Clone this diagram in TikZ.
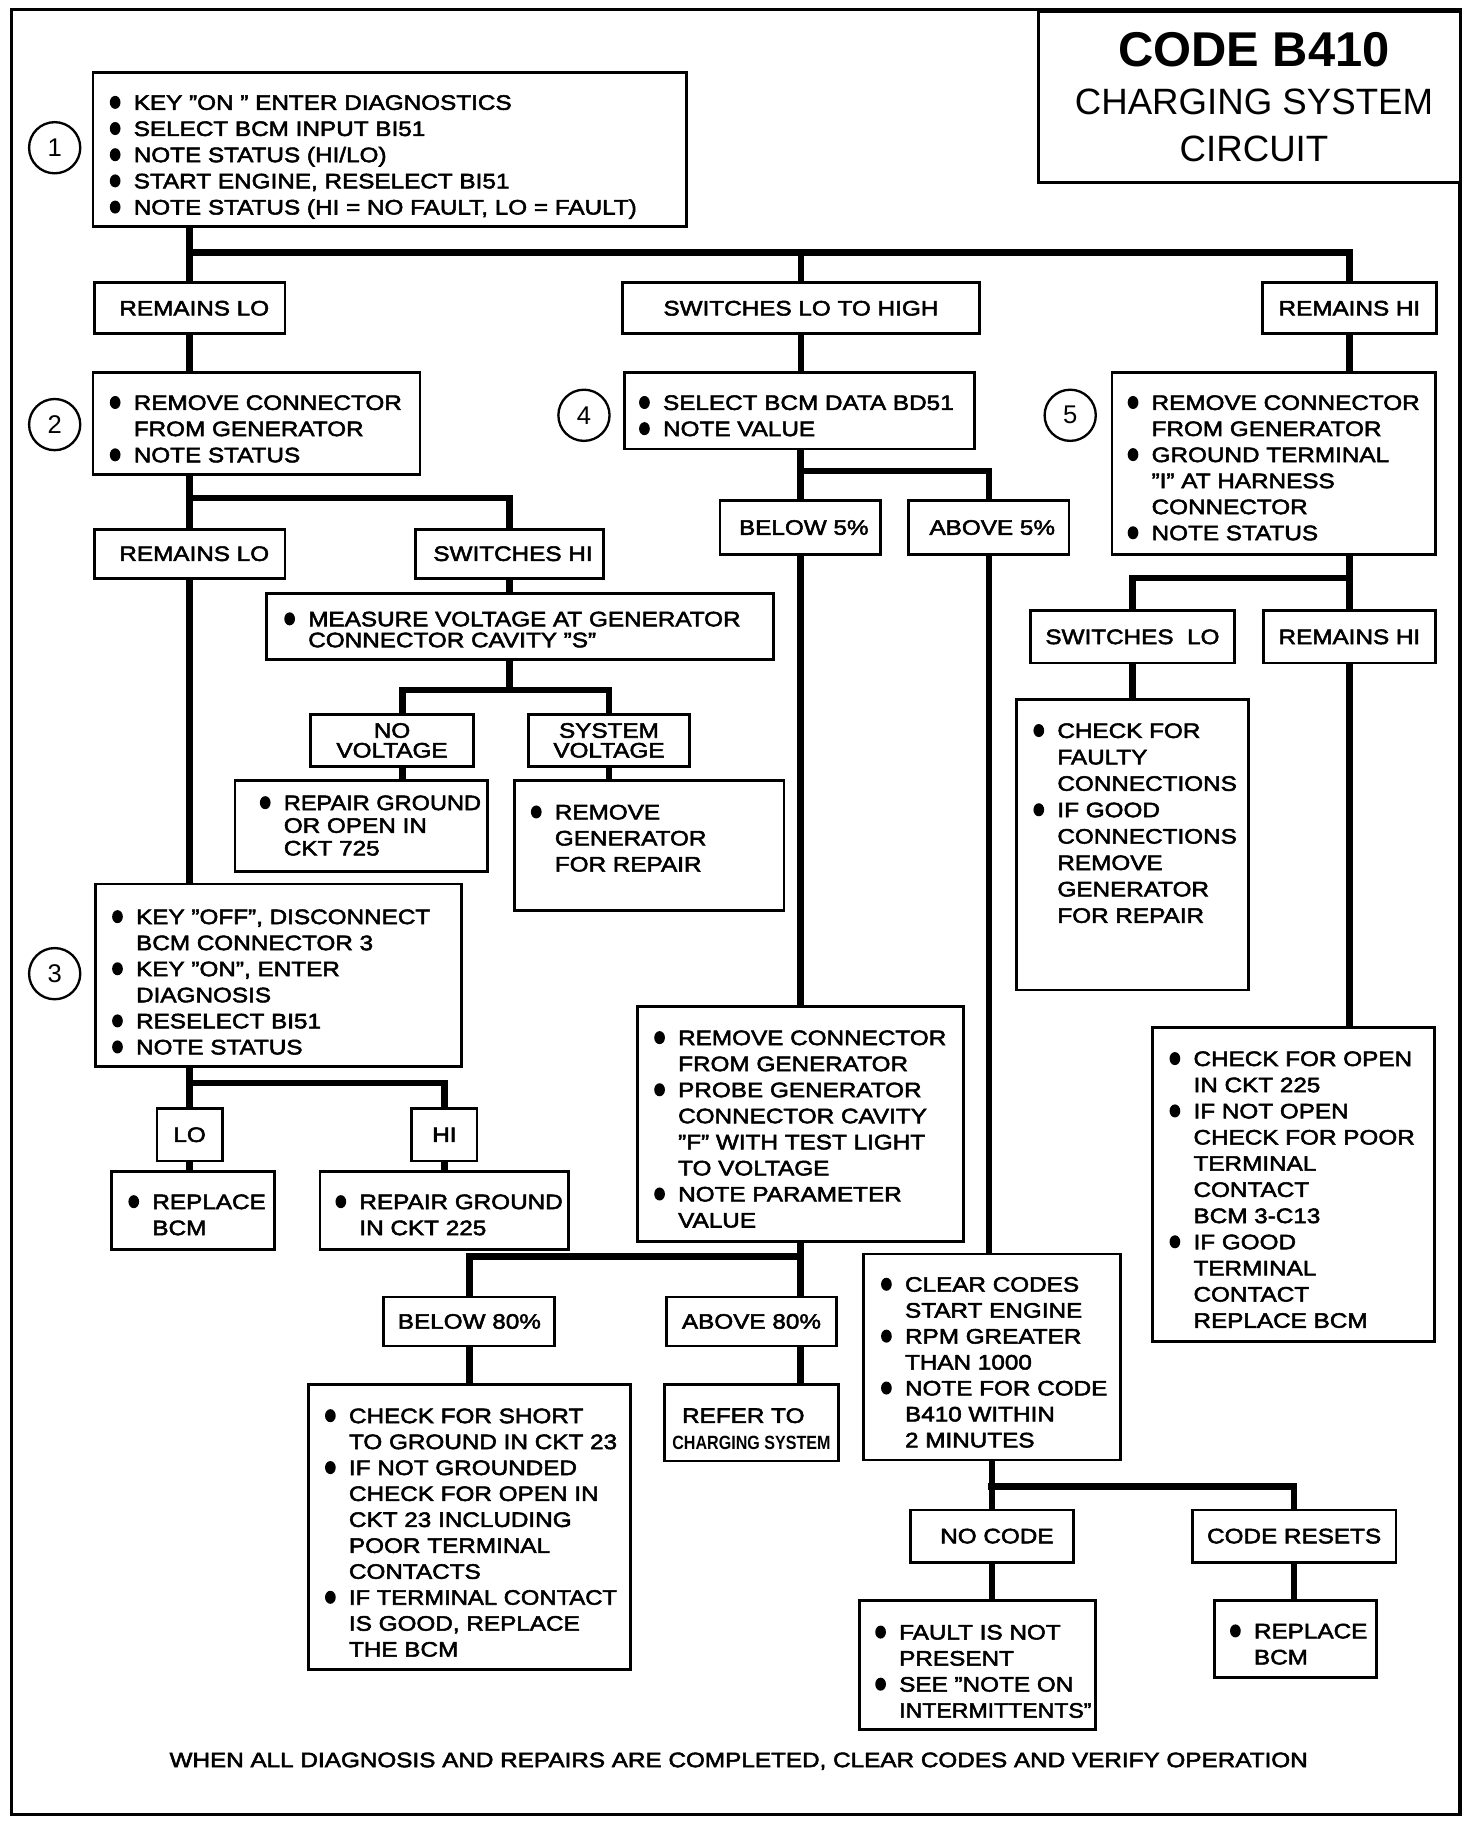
\documentclass[tikz,border=0pt]{standalone}
\usepackage{fontspec}
\usepackage{graphicx}
\setmainfont{Liberation Sans}[FakeStretch=1.16,FakeBold=2.5]
\newfontfamily\titlefont{Liberation Sans}
\usetikzlibrary{backgrounds}
\newcommand\bodyfont{\fontsize{18}{22}\selectfont}
\newcommand\twofont{\fontsize{18}{17}\selectfont}
\tikzset{
  bxs/.style={draw, line width=2.4pt, fill=white, inner sep=0pt, outer sep=0pt},
  lbl/.style={bxs, font=\twofont, align=center},
  conn/.style={line width=5.5pt, line cap=rect, line join=miter},
  tx/.style={anchor=base west, inner sep=0pt, outer sep=0pt, font=\bodyfont},
  num/.style={draw, circle, line width=2pt, minimum size=44pt, inner sep=0pt, font=\titlefont\fontsize{22}{22}\selectfont},
  ttl/.style={inner sep=0pt, outer sep=0pt},
}
\newcommand\bx[6]{\node[lbl, minimum width={(#4-#2)*1pt}, minimum height={(#5-#3)*1pt}] (#1) at ({(#2+#4)/2},{(#3+#5)/2}) {#6};}
\newcommand\blines[5]{\foreach \k/\s [count=\i from 0] in {#5}{\ifnum\k=1 \fill ({#2-16},{#3+\i*#4}) ellipse (4.6pt and 5.6pt);\fi\node[tx] (#1-\i) at ({#2},{#3+\i*#4+6.4}) {\s};}}
\begin{document}
\begin{tikzpicture}[x=1pt,y=-1pt]
\useasboundingbox (0,0) rectangle (1265,1568);
\draw[line width=3pt] (10,8) rectangle (1255,1560);
% title
\bx{title}{893}{10}{1255}{157}{}
\node[ttl, font=\titlefont\bfseries\fontsize{42}{42}\selectfont] (tt1) at (1078,43) {CODE B410};
\node[ttl, font=\titlefont\fontsize{31.5}{31.5}\selectfont] (tt2) at (1078,88) {CHARGING SYSTEM};
\node[ttl, font=\titlefont\fontsize{31.5}{31.5}\selectfont] (tt3) at (1078,128) {CIRCUIT};
% step circles
\node[num] (c1) at (47,127) {1};
\node[num] (c2) at (47,365) {2};
\node[num] (c3) at (47,837) {3};
\node[num] (c4) at (502,357) {4};
\node[num] (c5) at (920,357) {5};
% bullet boxes
\bx{b1}{80}{62}{590}{195}{}
\blines{t1}{115}{88}{22.5}{1/{KEY "ON " ENTER DIAGNOSTICS},1/{SELECT BCM INPUT BI51},1/{NOTE STATUS (HI/LO)},1/{START ENGINE, RESELECT BI51},1/{NOTE STATUS (HI = NO FAULT, LO = FAULT)}}
\bx{b2}{80}{320}{361}{408}{}
\blines{t2}{115}{346}{22.5}{1/{REMOVE CONNECTOR},0/{FROM GENERATOR},1/{NOTE STATUS}}
\bx{b4}{537}{320}{838}{386}{}
\blines{t4}{570}{346}{22.5}{1/{SELECT BCM DATA BD51},1/{NOTE VALUE}}
\bx{b5}{956}{320}{1234}{477}{}
\blines{t5}{990}{346}{22.4}{1/{REMOVE CONNECTOR},0/{FROM GENERATOR},1/{GROUND TERMINAL},0/{"I" AT HARNESS},0/{CONNECTOR},1/{NOTE STATUS}}
\bx{bm}{229}{510}{665}{567}{}
\blines{tm}{265}{532}{18}{1/{MEASURE VOLTAGE AT GENERATOR},0/{CONNECTOR CAVITY "S"}}
\bx{brg}{202}{671}{419}{749}{}
\blines{trg}{244}{690}{19.5}{1/{\scalebox{0.97}[1]{REPAIR GROUND}},0/{OR OPEN IN},0/{CKT 725}}
\bx{brm}{442}{671}{674}{783}{}
\blines{trm}{477}{698}{22.4}{1/{REMOVE},0/{GENERATOR},0/{FOR REPAIR}}
\bx{bcf}{874}{601}{1073}{851}{}
\blines{tcf}{909}{628}{22.7}{1/{CHECK FOR},0/{FAULTY},0/{CONNECTIONS},1/{IF GOOD},0/{CONNECTIONS},0/{REMOVE},0/{GENERATOR},0/{FOR REPAIR}}
\bx{b3}{82}{760}{397}{917}{}
\blines{t3}{117}{788}{22.4}{1/{KEY "OFF", DISCONNECT},0/{BCM CONNECTOR 3},1/{KEY "ON", ENTER},0/{DIAGNOSIS},1/{RESELECT BI51},1/{NOTE STATUS}}
\bx{bp}{548}{865}{828}{1067}{}
\blines{tp}{583}{892}{22.4}{1/{REMOVE CONNECTOR},0/{FROM GENERATOR},1/{PROBE GENERATOR},0/{CONNECTOR CAVITY},0/{"F" WITH TEST LIGHT},0/{TO VOLTAGE},1/{NOTE PARAMETER},0/{VALUE}}
\bx{bo}{991}{883}{1233}{1153}{}
\blines{to}{1026}{910}{22.5}{1/{CHECK FOR OPEN},0/{IN CKT 225},1/{IF NOT OPEN},0/{CHECK FOR POOR},0/{TERMINAL},0/{CONTACT},0/{BCM 3-C13},1/{IF GOOD},0/{TERMINAL},0/{CONTACT},0/{REPLACE BCM}}
\bx{br1}{96}{1007}{236}{1074}{}
\blines{tr1}{131}{1033}{22.4}{1/{REPLACE},0/{BCM}}
\bx{br2}{275}{1007}{489}{1074}{}
\blines{tr2}{309}{1033}{22.4}{1/{REPAIR GROUND},0/{IN CKT 225}}
\bx{bcc}{742}{1078}{963}{1255}{}
\blines{tcc}{778}{1104}{22.3}{1/{CLEAR CODES},0/{START ENGINE},1/{RPM GREATER},0/{THAN 1000},1/{NOTE FOR CODE},0/{B410 WITHIN},0/{2 MINUTES}}
\bx{bs}{265}{1190}{542}{1435}{}
\blines{ts}{300}{1217}{22.3}{1/{CHECK FOR SHORT},0/{TO GROUND IN CKT 23},1/{IF NOT GROUNDED},0/{CHECK FOR OPEN IN},0/{CKT 23 INCLUDING},0/{POOR TERMINAL},0/{CONTACTS},1/{\scalebox{0.98}[1]{IF TERMINAL CONTACT}},0/{IS GOOD, REPLACE},0/{THE BCM}}
\bx{bf}{739}{1376}{942}{1487}{}
\blines{tf}{773}{1403}{22.4}{1/{FAULT IS NOT},0/{PRESENT},1/{SEE "NOTE ON},0/{\scalebox{0.95}[1]{INTERMITTENTS"}}}
\bx{br3}{1044}{1376}{1183}{1442}{}
\blines{tr3}{1078}{1402}{22.4}{1/{REPLACE},0/{BCM}}
% label boxes
\bx{l1}{81}{243}{245}{287}{\hspace{8pt}REMAINS LO}
\bx{l2}{535}{243}{842}{287}{SWITCHES LO TO HIGH}
\bx{l3}{1085}{243}{1235}{287}{REMAINS HI}
\bx{l4}{81}{455}{245}{497}{\hspace{8pt}REMAINS LO}
\bx{l5}{357}{455}{519}{497}{\hspace{6pt}SWITCHES HI}
\bx{l6}{267}{614}{407}{659}{NO\\VOLTAGE}
\bx{l7}{454}{614}{593}{659}{SYSTEM\\VOLTAGE}
\bx{l8}{619}{430}{757}{477}{\hspace{6pt}BELOW 5\%}
\bx{l9}{781}{430}{919}{477}{\hspace{6pt}ABOVE 5\%}
\bx{l10}{886}{525}{1061}{570}{SWITCHES\ \ LO}
\bx{l11}{1086}{525}{1234}{570}{REMAINS HI}
\bx{l12}{135}{953}{191}{998}{LO}
\bx{l13}{354}{953}{410}{998}{HI}
\bx{l14}{330}{1115}{477}{1157}{BELOW 80\%}
\bx{l15}{573}{1115}{719}{1157}{ABOVE 80\%}
\bx{l16}{571}{1190}{721}{1256}{}
\node[ttl, font=\bodyfont] (rf1) at (639,1217) {REFER TO};
\node[ttl] (rf2) at (646,1240) {\resizebox{136pt}{11.5pt}{\titlefont\bfseries CHARGING SYSTEM}};
\bx{l17}{783}{1298}{923}{1343}{\hspace{8pt}NO CODE}
\bx{l18}{1025}{1298}{1200}{1343}{CODE RESETS}
% footer
\node[ttl, font=\bodyfont] (foot) at (635,1514) {WHEN ALL DIAGNOSIS AND REPAIRS ARE COMPLETED, CLEAR CODES AND VERIFY OPERATION};
% connectors
\begin{scope}[on background layer]
\coordinate (j1) at (163,217);
\coordinate (j2) at (163,428);
\coordinate (j3) at (438,593);
\coordinate (x6) at (346,0);
\coordinate (j4) at (688,405);
\coordinate (j5) at (688,1080);
\coordinate (j6) at (852,1278);
\coordinate (j7) at (1160,497);
\coordinate (j8) at (163,931);
\draw[conn] (b1.south -| j1) -- (l1.north -| j1);
\draw[conn] (j1) -| (l3.north);
\draw[conn] (j1 -| l2.north) -- (l2.north);
\draw[conn] (l1.south -| j1) -- (b2.north -| j1);
\draw[conn] (b2.south -| j1) -- (l4.north -| j1);
\draw[conn] (j2) -| (l5.north);
\draw[conn] (l4.south -| j1) -- (b3.north -| j1);
\draw[conn] (l5.south) -- (bm.north -| l5.south);
\draw[conn] (bm.south -| j3) -- (j3);
\draw[conn] (l6.north -| x6) |- (l7.north |- j3) -- (l7.north);
\draw[conn] (l6.south -| x6) -- (brg.north -| x6);
\draw[conn] (l7.south) -- (brm.north -| l7.south);
\draw[conn] (l2.south) -- (b4.north -| l2.south);
\draw[conn] (b4.south -| l8.north) -- (l8.north);
\draw[conn] (j4) -| (l9.north);
\draw[conn] (l8.south) -- (bp.north -| l8.south);
\draw[conn] (l9.south) -- (bcc.north -| l9.south);
\draw[conn] (bp.south -| j5) -- (l15.north -| j5);
\draw[conn] (j5) -| (l14.north);
\draw[conn] (l14.south) -- (bs.north -| l14.south);
\draw[conn] (l15.south -| j5) -- (l16.north -| j5);
\draw[conn] (bcc.south -| l17.north) -- (l17.north);
\draw[conn] (j6) -| (l18.north);
\draw[conn] (l17.south) -- (bf.north -| l17.south);
\draw[conn] (l18.south) -- (br3.north -| l18.south);
\draw[conn] (l3.south) -- (b5.north -| l3.south);
\draw[conn] (b5.south -| l11.north) -- (l11.north);
\draw[conn] (j7) -| (l10.north);
\draw[conn] (l10.south) -- (bcf.north -| l10.south);
\draw[conn] (l11.south) -- (bo.north -| l11.south);
\draw[conn] (b3.south -| j8) -- (l12.north -| j8);
\draw[conn] (j8) -| (l13.north);
\draw[conn] (l12.south -| j8) -- (br1.north -| j8);
\draw[conn] (l13.south) -- (br2.north -| l13.south);
\end{scope}
\end{tikzpicture}
\end{document}
